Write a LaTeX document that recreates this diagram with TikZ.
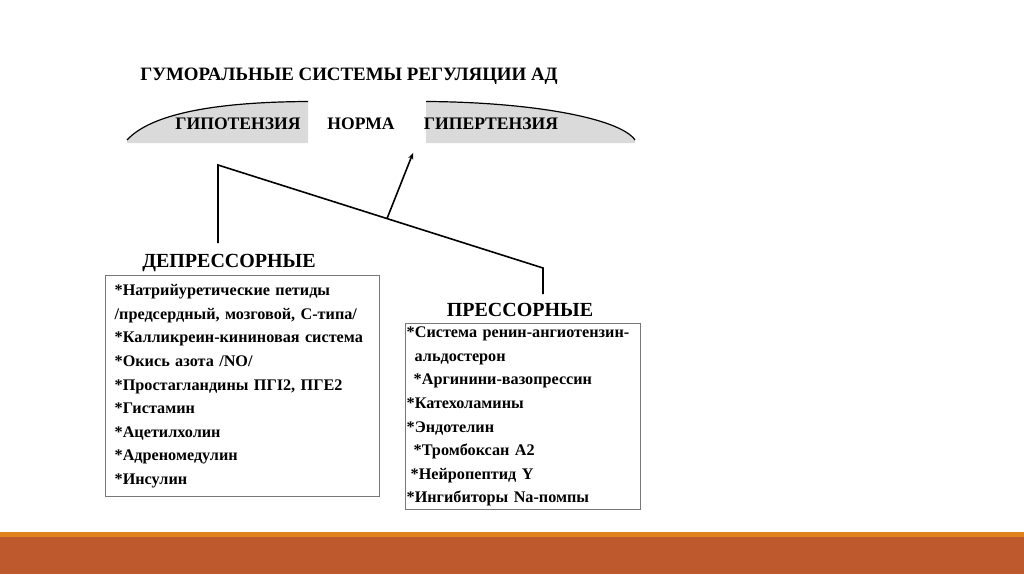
\documentclass[tikz,border=0pt]{standalone}
\usepackage{fontspec}
\setmainfont{Liberation Serif}[BoldFont={Liberation Serif Bold}]
\usetikzlibrary{positioning,arrows.meta}
\definecolor{bandorange}{RGB}{226,130,28}
\definecolor{bandrust}{RGB}{190,89,46}
\definecolor{arcgray}{RGB}{218,218,218}
\definecolor{boxgray}{RGB}{120,120,120}

\begin{document}
\begin{tikzpicture}[
  x=1pt,y=-1pt,
  font=\bfseries,
  ttl/.style={inner sep=0pt,font=\fontsize{18.9}{20}\selectfont\bfseries},
  zone/.style={inner sep=0pt,font=\fontsize{17.6}{19}\selectfont\bfseries},
  grp/.style={inner sep=0pt,font=\fontsize{20}{22}\selectfont\bfseries},
  lst/.style={draw=boxgray,line width=1.4pt,align=left,anchor=north west,
    font=\fontsize{16.2}{23.6}\selectfont\bfseries},
  ln/.style={line width=1.6pt},
  >={Stealth[length=2.2mm,width=1.8mm]}]
\useasboundingbox (0,0) rectangle (1024,574);
% bottom band
\fill[bandrust] (0,537) rectangle (1024,574);
\fill[bandorange] (0,531.5) rectangle (1024,537);
% title and scale
\node[ttl] (title) at (349,76) {ГУМОРАЛЬНЫЕ СИСТЕМЫ РЕГУЛЯЦИИ АД};
\fill[arcgray] (127,140) .. controls (150,115) and (210,102) .. (308,101.5) -- (308,143) -- (127,143) -- cycle;
\fill[arcgray] (426,101.5) .. controls (530,102) and (620,118) .. (635,140) -- (635,143) -- (426,143) -- cycle;
\draw[line width=1.2pt] (127,140) .. controls (150,115) and (210,102) .. (308,101.5);
\draw[line width=1.2pt] (426,101.5) .. controls (530,102) and (620,118) .. (635,140);
\node[zone] (hypo) at (238,124) {ГИПОТЕНЗИЯ};
\node[zone] (norm) at (361,124) {НОРМА};
\node[zone] (hyper) at (491,124) {ГИПЕРТЕНЗИЯ};
% groups
\node[grp] (dep) at (229,263) {ДЕПРЕССОРНЫЕ};
\node[grp] (pres) at (520,310) {ПРЕССОРНЫЕ};
\node[lst,minimum width=274,minimum height=221,text width=256,inner xsep=9pt]
  (deplist) at (105,275) {%
{*}Натрийуретические петиды\\
/предсердный, мозговой, С-типа/\\
{*}Калликреин-кининовая система\\
{*}Окись азота /NO/\\
{*}Простагландины ПГI2, ПГЕ2\\
{*}Гистамин\\
{*}Ацетилхолин\\
{*}Адреномедулин\\
{*}Инсулин};
\node[lst,minimum width=235,minimum height=185,text width=233,inner xsep=1pt]
  (preslist) at (405,323) {%
{*}Система ренин-ангиотензин-\\
\hspace*{8pt}альдостерон\\
\hspace*{7pt}{*}Аргинини-вазопрессин\\
{*}Катехоламины\\
{*}Эндотелин\\
\hspace*{7pt}{*}Тромбоксан А2\\
\hspace*{4pt}{*}Нейропептид Y\\
{*}Ингибиторы Na-помпы};
% connector
\coordinate (dtop) at (218,243);
\coordinate (lcorner) at (218,165);
\coordinate (rcorner) at (543,268);
\coordinate (ptop) at (543,294);
\coordinate (tip) at (413,153);
\draw[ln] (dtop) -- (lcorner) -- (rcorner) -- (ptop);
\path (lcorner) -- (rcorner) coordinate[pos=0.52] (mid);
\draw[ln,->] (mid) -- (tip);
\end{tikzpicture}
\end{document}
